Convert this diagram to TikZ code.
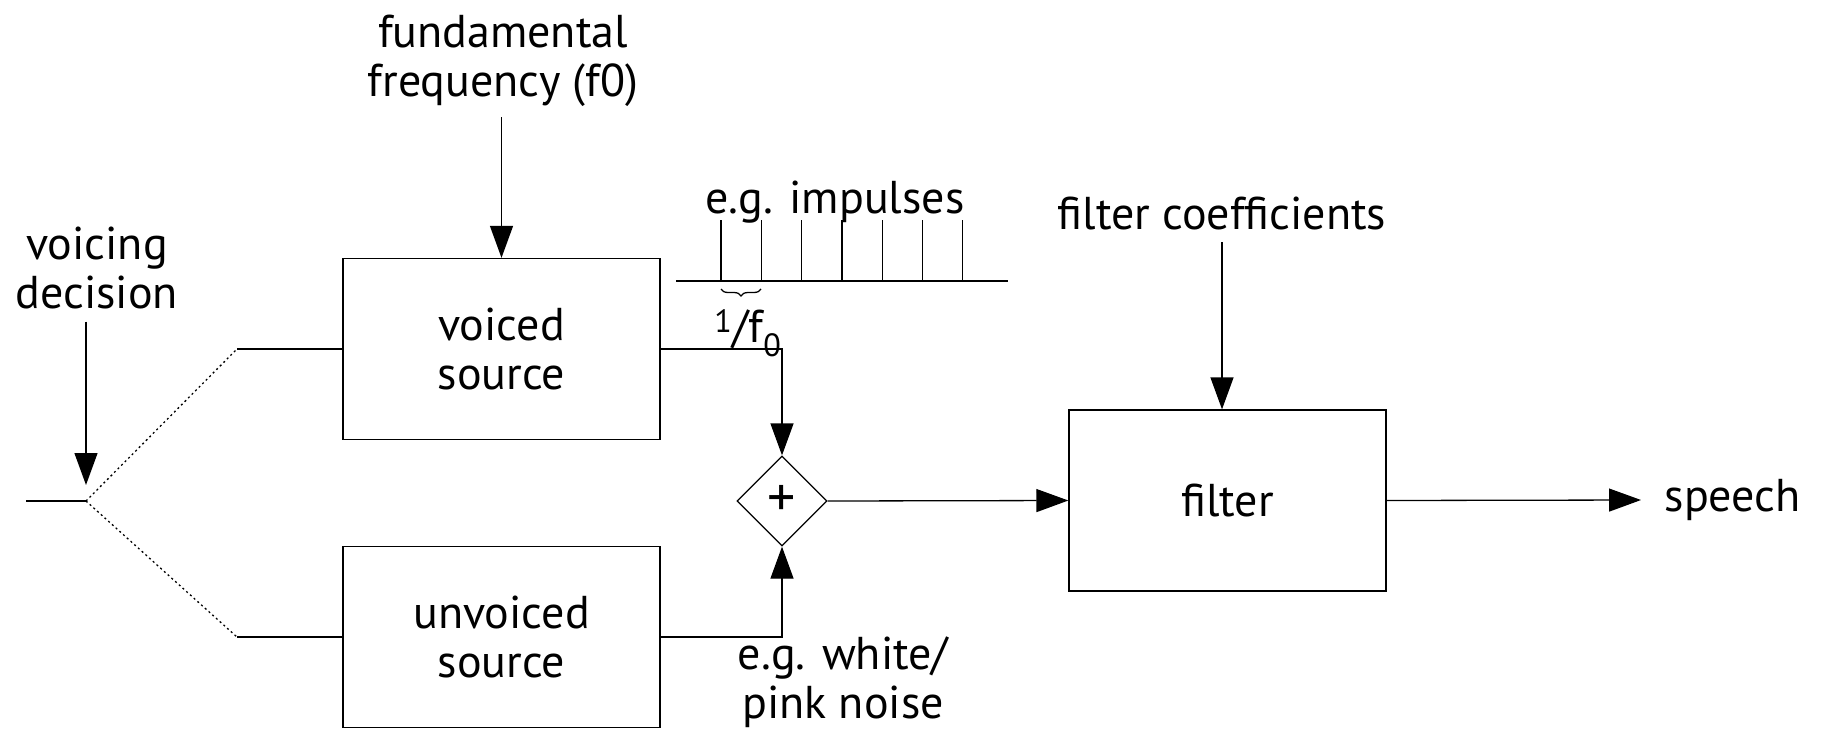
\documentclass[tikz,border=0pt]{standalone}
\usepackage{fontspec}
\setmainfont{PT Sans}
\usetikzlibrary{arrows.meta,shapes.geometric,decorations.pathreplacing}

\begin{document}
\begin{tikzpicture}[x=1pt,y=-1pt,font=\fontsize{46}{49}\selectfont,line width=1.3pt,
  blk/.style={draw,minimum width=317pt,minimum height=181pt,inner sep=0pt,align=center},
  lbl/.style={align=center,inner sep=0pt},
  arr/.style={-{Triangle[length=32pt,width=23pt]}}]
  \useasboundingbox (0,0) rectangle (1825,728);
  % blocks
  \node[blk] (voiced) at (501.5,349) {voiced\\source};
  \node[blk] (unvoiced) at (501.5,637) {unvoiced\\source};
  \node[blk] (filter) at (1227.5,500.5) {filter};
  \node[draw,diamond,minimum width=90pt,minimum height=90pt,inner sep=0pt,
    font=\fontsize{56}{56}\selectfont] (sum) at (782,501) {+};
  % labels
  \node[lbl] (fund) at (503,61) {fundamental\\frequency (f0)};
  \node[lbl] (vdec) at (97,268) {voicing\\decision};
  \node[lbl] (coef) at (1222,213) {filter coefficients};
  \node[lbl] (imp) at (835,202) {e.g. impulses};
  \node[lbl] (noise) at (843,682) {e.g. white/\\pink noise};
  \node[lbl,anchor=west] (speech) at (1664,500) {speech};
  % voicing switch
  \coordinate (in) at (26,501);
  \coordinate (sw) at (86,501);
  \coordinate (vtap) at (237,349);
  \coordinate (utap) at (237,637);
  \draw (in) -- (sw);
  \draw[dash pattern=on 2pt off 3pt] (sw) -- (vtap) (sw) -- (utap);
  \draw (vtap) -- (voiced.west) (utap) -- (unvoiced.west);
  % signal path
  \draw[arr,shorten <=12pt,shorten >=16pt] (vdec.south -| sw) -- (sw);
  \draw[arr,shorten <=10pt] (fund.south -| voiced.north) -- (voiced.north);
  \draw[arr,shorten <=12pt] (coef.south) -- (coef.south |- filter.north);
  \draw[arr] (voiced.east) -| (sum.north);
  \draw[arr] (unvoiced.east) -| (sum.south);
  \draw[arr] (sum.east) -- (filter.west);
  \draw[arr] (filter.east) -- ([xshift=-23pt]speech.west);
  % impulse train
  \draw (676,281) -- (1008,281);
  \foreach \k in {0,...,6} \draw (721+40.3*\k,281) -- (721+40.3*\k,220);
  \draw[decorate,decoration={brace,amplitude=7pt,mirror}] (721,289) -- (761,289);
  \node[lbl] (period) at (748,333) {\textsuperscript{1}/f\textsubscript{0}};
\end{tikzpicture}
\end{document}
